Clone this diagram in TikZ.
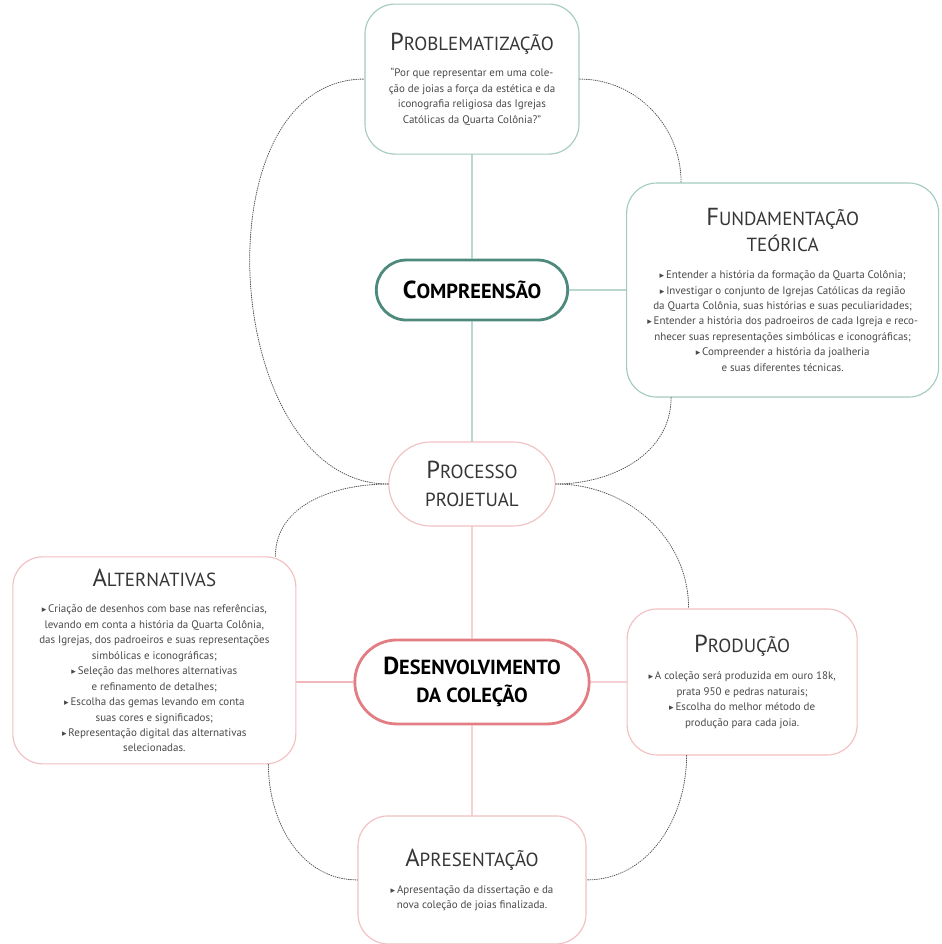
\documentclass[tikz,border=0pt]{standalone}
\usepackage{fontspec}
\setmainfont{PT Sans}
\newfontfamily\symfont{DejaVu Sans}
\usepackage{xcolor}
\usepackage{tikz}
\usetikzlibrary{positioning,shapes.misc,calc}
\definecolor{paperbg}{HTML}{FFFFFF}
\definecolor{inktitle}{HTML}{363636}
\definecolor{inkbody}{HTML}{4A4A4A}
\definecolor{tealline}{HTML}{A3CBC1}
\definecolor{tealdark}{HTML}{4E8A7C}
\definecolor{teallink}{HTML}{92C1B5}
\definecolor{pinkline}{HTML}{F2BFC3}
\definecolor{pinkdark}{HTML}{E27D83}
\definecolor{pinklink}{HTML}{F1B7BB}
\definecolor{dotgray}{HTML}{555555}
\newcommand{\bodysize}{\fontsize{7.8}{11}\selectfont}
\newcommand{\bul}{{\symfont\fontsize{6.5}{6}\selectfont ▸}\,}
\newcommand{\captitle}[2]{\textcolor{inktitle}{{\fontsize{17.5}{18}\selectfont #1}{\fontsize{13.5}{18}\selectfont #2}}}
\newcommand{\capline}[1]{\textcolor{inktitle}{\fontsize{13.5}{18}\selectfont #1}}
\newcommand{\boldtitle}[2]{{\bfseries\fontsize{17.5}{18}\selectfont #1}{\bfseries\fontsize{14.5}{18}\selectfont #2}}
\newcommand{\boldline}[1]{{\bfseries\fontsize{14.5}{18}\selectfont #1}}
\tikzset{
  mind diagram/.style={
    font=\bodysize,
    text=inkbody,
    line cap=round,
    line join=round
  },
  stagebox/.style={
    rounded corners=0.75cm,
    line width=0.8pt,
    fill=paperbg,
    align=center,
    inner sep=4pt
  },
  tealbox/.style={stagebox, draw=tealline},
  pinkbox/.style={stagebox, draw=pinkline},
  pillbox/.style={
    rounded rectangle,
    fill=paperbg,
    align=center,
    inner sep=2pt
  },
  comppill/.style={pillbox, draw=tealdark, line width=2pt, text=black},
  procpill/.style={pillbox, draw=pinkline, line width=0.8pt},
  desenpill/.style={pillbox, draw=pinkdark, line width=2pt, text=black},
  teallink/.style={draw=teallink, line width=0.8pt},
  pinklink/.style={draw=pinklink, line width=0.8pt},
  dotlink/.style={draw=dotgray, densely dotted, line width=0.6pt}
}

\begin{document}
\begin{tikzpicture}[mind diagram]
\useasboundingbox (-11.8,12.1) rectangle (11.75,-11.5);
\node[procpill, minimum width=4.3cm, minimum height=2.1cm] (proc) at (0,0)
  {\captitle{P}{ROCESSO}\\[9pt]\capline{PROJETUAL}};
\node[comppill, minimum width=4.925cm, minimum height=1.5cm, above=3.0cm of proc] (comp)
  {\boldtitle{C}{OMPREENSÃO}};
\node[tealbox, minimum width=5.35cm, minimum height=3.75cm, above=2.6cm of comp] (prob)
  {\captitle{P}{ROBLEMATIZAÇÃO}\\[8pt]
   ``Por que representar em uma cole-\\
   ção de joias a força da estética e da\\
   iconografia religiosa das Igrejas\\
   Católicas da Quarta Colônia?''};
\node[tealbox, minimum width=7.8cm, minimum height=5.35cm, right=1.425cm of comp] (fund)
  {\captitle{F}{UNDAMENTAÇÃO}\\[3pt]\capline{TEÓRICA}\\[8pt]
   \bul Entender a história da formação da Quarta Colônia;\\
   \bul Investigar o conjunto de Igrejas Católicas da região\\
   da Quarta Colônia, suas histórias e suas peculiaridades;\\
   \bul Entender a história dos padroeiros de cada Igreja e reco-\\
   nhecer suas representações simbólicas e iconográficas;\\
   \bul Compreender a história da joalheria\\
   e suas diferentes técnicas.};
\node[desenpill, minimum width=6cm, minimum height=2.1cm, below=2.8cm of proc] (desen)
  {\boldtitle{D}{ESENVOLVIMENTO}\\[6pt]\boldline{DA COLEÇÃO}};
\node[pinkbox, minimum width=7.075cm, minimum height=5.175cm, left=1.425cm of desen, yshift=0.54cm] (alt)
  {\captitle{A}{LTERNATIVAS}\\[8pt]
   \bul Criação de desenhos com base nas referências,\\
   levando em conta a história da Quarta Colônia,\\
   das Igrejas, dos padroeiros e suas representações\\
   simbólicas e iconográficas;\\
   \bul Seleção das melhores alternativas\\
   e refinamento de detalhes;\\
   \bul Escolha das gemas levando em conta\\
   suas cores e significados;\\
   \bul Representação digital das alternativas\\
   selecionadas.};
\node[pinkbox, minimum width=5.75cm, minimum height=3.65cm, right=0.9cm of desen] (prod)
  {\captitle{P}{RODUÇÃO}\\[8pt]
   \bul A coleção será produzida em ouro 18k,\\
   prata 950 e pedras naturais;\\
   \bul Escolha do melhor método de\\
   produção para cada joia.};
\node[pinkbox, minimum width=5.7cm, minimum height=3.2cm, below=2.25cm of desen] (apres)
  {\captitle{A}{PRESENTAÇÃO}\\[8pt]
   \bul Apresentação da dissertação e da\\
   nova coleção de joias finalizada.};
\coordinate (fundtop) at ([xshift=1.375cm]fund.north west);
\coordinate (fundbot) at ([xshift=1.125cm]fund.south west);
\coordinate (alttop) at ([xshift=-0.525cm]alt.north east);
\coordinate (altbot) at ([xshift=-0.7cm]alt.south east);
\coordinate (prodtop) at ([xshift=1.55cm]prod.north west);
\coordinate (prodbot) at ([xshift=1.5cm]prod.south west);
\draw[teallink] (prob) -- (comp);
\draw[teallink] (comp) -- (proc);
\draw[teallink] (comp) -- (fund);
\draw[pinklink] (proc) -- (desen);
\draw[pinklink] (desen) -- (apres);
\draw[pinklink] (desen) -- (prod);
\draw[pinklink] (desen.west) -- (desen.west -| alt.east);
\draw[dotlink] (proc.west) .. controls +(-4.2,0) and +(-4.2,0) .. (prob.west);
\draw[dotlink] (prob.east) to[out=0, in=90] (fundtop);
\draw[dotlink] (fundbot) to[out=-90, in=0] (proc.east);
\draw[dotlink] (proc.west) to[out=180, in=90] (alttop);
\draw[dotlink] (proc.east) to[out=0, in=90] (prodtop);
\draw[dotlink] (altbot) to[out=-90, in=180] (apres.west);
\draw[dotlink] (prodbot) to[out=-90, in=0] (apres.east);
\end{tikzpicture}
\end{document}
